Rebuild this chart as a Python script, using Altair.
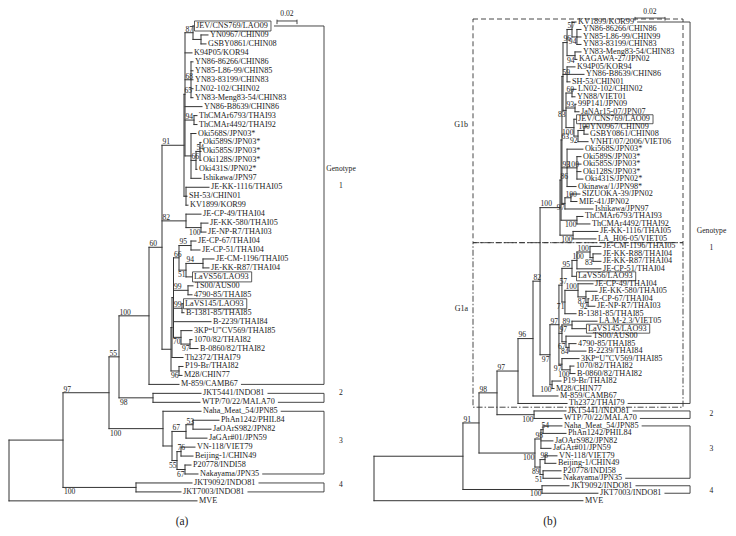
import altair as alt
import pandas as pd

# ---------------------------------------------------------------
# DATA: trees as (bootstrap, depth, [children]) for internal nodes
# and (name, depth) for leaves; depth = distance from root (subst./site)
# ---------------------------------------------------------------

# ---- panel (a) ----
A_G1B = ("91", 0.175, [
    ("65", 0.176, [
        ("87", 0.184, [
            ("JEV/CNS769/LAO09", 0.185),
            ("", 0.192, [("YN0967/CHIN09", 0.199), ("GSBY0861/CHIN08", 0.197)]),
        ]),
        ("K94P05/KOR94", 0.183),
        ("68", 0.182, [("YN86-86266/CHIN86", 0.184), ("YN85-L86-99/CHIN85", 0.184),
                       ("YN83-83199/CHIN83", 0.184), ("LN02-102/CHIN02", 0.184),
                       ("YN83-Meng83-54/CHIN83", 0.184)]),
        ("YN86-B8639/CHIN86", 0.193),
        ("94", 0.185, [("ThCMAr6793/THAI93", 0.188), ("ThCMAr4492/THAI92", 0.188)]),
        ("", 0.182, [
            ("Oki568S/JPN03*", 0.187),
            ("66", 0.187, [
                ("54", 0.191, [("Oki589S/JPN03*", 0.192), ("Oki585S/JPN03*", 0.192),
                               ("Oki128S/JPN03*", 0.192)]),
                ("Oki431S/JPN02*", 0.188),
            ]),
            ("Ishikawa/JPN97", 0.192),
        ]),
    ]),
    ("", 0.177, [("JE-KK-1116/THAI05", 0.200), ("SH-53/CHIN01", 0.178), ("KV1899/KOR99", 0.179)]),
])

A_THAI = ("82", 0.177, [
    ("JE-CP-49/THAI04", 0.192),
    ("100", 0.192, [("JE-KK-580/THAI05", 0.199), ("JE-NP-R7/THAI03", 0.197)]),
])

A_G1A = ("", 0.162, [
    ("", 0.163, [
        ("", 0.1645, [
            ("66", 0.170, [
                ("95", 0.182, [("JE-CP-67/THAI04", 0.187), ("JE-CP-51/THAI04", 0.191)]),
                ("51", 0.177, [
                    ("94", 0.194, [("JE-CM-1196/THAI05", 0.205), ("JE-KK-R87/THAI04", 0.200)]),
                    ("LaVS56/LAO93", 0.183),
                ]),
            ]),
            ("99", 0.179, [("TS00/AUS00", 0.184), ("4790-85/THAI85", 0.183)]),
            ("99", 0.173, [("LaVS145/LAO93", 0.174), ("B-1381-85/THAI85", 0.175)]),
            ("B-2239/THAI84", 0.202),
            ("70", 0.172, [
                ("3KP\u201cU\u201dCV569/THAI85", 0.183),
                ("97", 0.181, [("1070/82/THAI82", 0.183), ("B-0860/82/THAI82", 0.189)]),
            ]),
        ]),
        ("Th2372/THAI79", 0.174),
    ]),
    ("96", 0.170, [("P19-Br/THAI82", 0.174), ("M28/CHIN77", 0.173)]),
])

A_G3 = ("100", 0.154, [
    ("Naha_Meat_54/JPN85", 0.192),
    ("", 0.163, [
        ("67", 0.177, [
            ("53", 0.184, [("PhAn1242/PHIL84", 0.210), ("JaOArS982/JPN82", 0.202)]),
            ("JaGAr#01/JPN59", 0.198),
        ]),
        ("55", 0.168, [
            ("76", 0.172, [("VN-118/VIET79", 0.186), ("Beijing-1/CHIN49", 0.184)]),
            ("67", 0.176, [("P20778/INDI58", 0.182), ("Nakayama/JPN35", 0.189)]),
        ]),
    ]),
])

TREE_A = ("", 0.000, [
    ("", 0.054, [
        ("97", 0.100, [
            ("55", 0.110, [
                ("100", 0.140, [
                    ("60", 0.153, [A_G1B, A_THAI, A_G1A]),
                    ("M-859/CAMB67", 0.170),
                ]),
                ("98", 0.144, [("JKT5441/INDO81", 0.192), ("WTP/70/22/MALA70", 0.191)]),
            ]),
            A_G3,
        ]),
        ("100", 0.127, [("JKT9092/INDO81", 0.183), ("JKT7003/INDO81", 0.172)]),
    ]),
    ("MVE", 0.188),
])

# ---- panel (b) ----
B_G1B = ("100", 0.1240, [
    ("86", 0.1247, [
        ("63", 0.1253, [
            ("59", 0.1260, [
                ("96", 0.1287, [
                    ("57", 0.1320, [
                        ("KV1899/KOR99", 0.1347),
                        ("94", 0.1353, [("YN86-86266/CHIN86", 0.1380), ("YN85-L86-99/CHIN99", 0.1380),
                                        ("YN83-83199/CHIN83", 0.1380)]),
                    ]),
                    ("94", 0.1340, [("YN83-Meng83-54/CHIN83", 0.1380), ("KAGAWA-27/JPN02", 0.1353)]),
                ]),
                ("", 0.1287, [("K94P05/KOR94", 0.1340), ("YN86-B8639/CHIN86", 0.1400),
                              ("SH-53/CHIN01", 0.1307)]),
                ("83", 0.1280, [
                    ("60", 0.1320, [("LN02-102/CHIN02", 0.1347), ("YN88/VIET01", 0.1340)]),
                    ("93", 0.1340, [("99P141/JPN09", 0.1347), ("JaNAr15-07/JPN07", 0.1367)]),
                    ("100", 0.1333, [
                        ("JEV/CNS769/LAO09", 0.1347),
                        ("92", 0.1360, [
                            ("100", 0.1400, [("YN0967/CHIN09", 0.1427), ("GSBY0861/CHIN08", 0.1427)]),
                            ("VNHT/07/2006/VIET06", 0.1427),
                        ]),
                    ]),
                ]),
            ]),
            ("93", 0.1287, [
                ("Oki568S/JPN03*", 0.1393),
                ("100", 0.1353, [("Oki589S/JPN03*", 0.1380), ("Oki585S/JPN03*", 0.1380),
                                 ("Oki128S/JPN03*", 0.1380), ("Oki431S/JPN02*", 0.1393)]),
                ("Okinawa/1/JPN98*", 0.1347),
            ]),
            ("97", 0.1273, [
                ("100", 0.1313, [("SIZUOKA-39/JPN02", 0.1373), ("MIE-41/JPN02", 0.1353)]),
                ("Ishikawa/JPN97", 0.1460),
            ]),
        ]),
        ("100", 0.1353, [("ThCMAr6793/THAI93", 0.1393), ("ThCMAr4492/THAI92", 0.1440)]),
    ]),
    ("100", 0.1327, [("JE-KK-1116/THAI05", 0.1493), ("LA_H06-05/VIET05", 0.1480)]),
])

B_G1A = ("97", 0.1173, [
    ("97", 0.1233, [
        ("57", 0.1253, [
            ("95", 0.1320, [
                ("100", 0.1353, [
                    ("100", 0.1440, [
                        ("JE-CM-1196/THAI05", 0.1513),
                        ("83", 0.1460, [("JE-KK-R88/THAI04", 0.1513), ("JE-KK-R87/THAI04", 0.1513)]),
                    ]),
                    ("JE-CP-51/THAI04", 0.1513),
                ]),
                ("LaVS56/LAO93", 0.1347),
            ]),
            ("71", 0.1273, [
                ("100", 0.1360, [
                    ("JE-CP-49/THAI04", 0.1460),
                    ("87", 0.1413, [
                        ("JE-KK-580/THAI05", 0.1487),
                        ("92", 0.1427, [("JE-CP-67/THAI04", 0.1433), ("JE-NP-R7/THAI03", 0.1473)]),
                    ]),
                ]),
                ("B-1381-85/THAI85", 0.1347),
            ]),
        ]),
        ("97", 0.1253, [
            ("89", 0.1320, [("LA.M-2.3/VIET05", 0.1487), ("LaVS145/LAO93", 0.1413)]),
            ("67", 0.1280, [
                ("TS00/AUS00", 0.1447),
                ("84", 0.1300, [("4790-85/THAI85", 0.1347), ("B-2239/THAI84", 0.1413)]),
            ]),
        ]),
        ("97", 0.1253, [
            ("3KP\u201cU\u201dCV569/THAI85", 0.1367),
            ("100", 0.1307, [("1070/82/THAI82", 0.1333), ("B-0860/82/THAI82", 0.1340)]),
        ]),
    ]),
    ("100", 0.1187, [("P19-Br/THAI82", 0.1247), ("M28/CHIN77", 0.1200)]),
])

B_G3 = ("100", 0.1073, [
    ("98", 0.1113, [
        ("54", 0.1127, [("Naha_Meat_54/JPN85", 0.1253), ("PhAn1242/PHIL84", 0.1280)]),
        ("JaOArS982/JPN82", 0.1193),
        ("JaGAr#01/JPN59", 0.1180),
    ]),
    ("89", 0.1107, [
        ("98", 0.1140, [("VN-118/VIET79", 0.1220), ("Beijing-1/CHIN49", 0.1213)]),
        ("51", 0.1127, [("P20778/INDI58", 0.1247), ("Nakayama/JPN35", 0.1247)]),
    ]),
])

TREE_B = ("", 0.0, [
    ("", 0.0593, [
        ("91", 0.0700, [
            ("98", 0.0820, [
                ("97", 0.0960, [
                    ("96", 0.1060, [
                        ("82", 0.1107, [B_G1B, B_G1A]),
                        ("M-859/CAMB67", 0.1227),
                    ]),
                    ("Th2372/THAI79", 0.1287),
                ]),
                ("100", 0.1067, [("JKT5441/INDO81", 0.1280), ("WTP/70/22/MALA70", 0.1253)]),
            ]),
            B_G3,
        ]),
        ("100", 0.1120, [("JKT9092/INDO81", 0.1300), ("JKT7003/INDO81", 0.1493)]),
    ]),
    ("MVE", 0.1393),
])

BOXED = ["JEV/CNS769/LAO09", "LaVS56/LAO93", "LaVS145/LAO93"]

# genotype groups: (label, first leaf row, last leaf row)
GENO_A = [("1", 0, 40), ("2", 41, 42), ("3", 43, 50), ("4", 51, 52)]
GENO_B = [("1", 0, 51), ("2", 52, 53), ("3", 54, 61), ("4", 62, 63)]
GENO_LABEL_ROWS_A = {"Genotype": 15.96, "1": 17.9, "2": 41.0, "3": 46.3, "4": 51.2}
GENO_LABEL_ROWS_B = {"Genotype": 27.9, "1": 30.2, "2": 52.4, "3": 57.1, "4": 62.7}
SUBGROUPS_B = [("G1b", -0.4, 29.5, 13.8), ("G1a", 29.5, 51.5, 38.4)]
SCALE_BAR = 0.02

# ---------------------------------------------------------------
FONT = "Liberation Serif"
INK = "#333333"
LEAF_FS = 8.2
BOOT_FS = 7.6

EM = {c: 0.5 for c in "0123456789#*_"}
EM.update(dict(zip("ABCDEFGHIJKLMNOPQRSTUVWXYZ",
                   [.722, .667, .667, .722, .611, .556, .722, .722, .333, .389, .722, .611, .889,
                    .722, .722, .556, .722, .667, .556, .611, .722, .722, .944, .722, .722, .611])))
EM.update(dict(zip("abcdefghijklmnopqrstuvwxyz",
                   [.444, .5, .444, .5, .444, .333, .5, .5, .278, .278, .5, .278, .778,
                    .5, .5, .5, .5, .333, .389, .278, .5, .5, .722, .5, .5, .444])))
EM.update({"/": .278, "-": .333, ".": .25, " ": .25, "\u201c": .444, "\u201d": .444})


def text_px(s, size):
    return size * sum(EM.get(c, 0.5) for c in s)


def layout(tree):
    leaves, segs, boots = [], [], []
    state = {"row": 0}

    def walk(node, pdepth, last):
        if len(node) == 2:
            name, d = node
            r = state["row"]
            state["row"] += 1
            leaves.append({"text": name, "x": d, "y": r})
            if pdepth is not None:
                segs.append({"x": pdepth, "x2": d, "y": r, "y2": r})
            return r
        lab, d, kids = node
        rows = [walk(k, d, i == len(kids) - 1) for i, k in enumerate(kids)]
        r = (rows[0] + rows[-1]) / 2
        segs.append({"x": d, "x2": d, "y": rows[0], "y2": rows[-1]})
        if pdepth is not None:
            segs.append({"x": pdepth, "x2": d, "y": r, "y2": r})
            if lab:
                boots.append({"text": lab, "px": pdepth, "nx": d, "y": r, "below": last})
        return r

    walk(tree, None, False)
    return leaves, segs, boots


def panel(tree, ppu, xdom, ydom, W, H, geno, bracket_x, geno_x, geno_rows,
          bar_x, bar_row, caption_x, caption_row, caption, row_half, long_stem_px, subgroups=()):
    leaves, segs, boots = layout(tree)
    X = alt.X("x:Q", scale=alt.Scale(domain=xdom, nice=False, zero=False), axis=None)
    Y = alt.Y("y:Q", scale=alt.Scale(domain=ydom, nice=False, zero=False, reverse=True), axis=None)
    X2 = alt.X2("x2:Q")
    Y2 = alt.Y2("y2:Q")

    ends, boxes = {}, []
    for lf in leaves:
        w = text_px(lf["text"], LEAF_FS)
        boxed = lf["text"] in BOXED
        ends[lf["y"]] = lf["x"] + (2 + w + (3 if boxed else 0) + 3) / ppu
        if boxed:
            boxes.append({"x": lf["x"] + 0.5 / ppu, "x2": lf["x"] + (2 + w + 3) / ppu,
                          "y": lf["y"] - row_half, "y2": lf["y"] + row_half})

    # bootstrap placement: above the stem at its start, or below the stem;
    # short lower stems carry the value right-aligned against the node
    above, below_left, below_right = [], [], []
    for b in boots:
        if not b["below"]:
            above.append({"text": b["text"], "x": b["px"], "y": b["y"]})
        elif (b["nx"] - b["px"]) * ppu > long_stem_px:
            below_left.append({"text": b["text"], "x": b["px"], "y": b["y"]})
        else:
            below_right.append({"text": b["text"], "x": b["nx"], "y": b["y"]})

    brk = []
    for lab, r0, r1 in geno:
        brk.append({"x": ends[r0], "x2": bracket_x, "y": r0, "y2": r0})
        brk.append({"x": ends[r1], "x2": bracket_x, "y": r1, "y2": r1})
        brk.append({"x": bracket_x, "x2": bracket_x, "y": r0, "y2": r1})
    # scale bar
    tick = 0.35
    brk.append({"x": bar_x, "x2": bar_x + SCALE_BAR, "y": bar_row, "y2": bar_row})
    brk.append({"x": bar_x, "x2": bar_x, "y": bar_row - 0.15, "y2": bar_row + tick})
    brk.append({"x": bar_x + SCALE_BAR, "x2": bar_x + SCALE_BAR, "y": bar_row - 0.15, "y2": bar_row + tick})

    annot = [{"text": k, "x": geno_x, "y": v} for k, v in geno_rows.items()]
    annot.append({"text": "0.02", "x": bar_x + SCALE_BAR / 2, "y": bar_row - 0.75})

    txt = dict(font=FONT, color="#222222")
    layers = [
        alt.Chart(pd.DataFrame(segs)).mark_rule(color=INK, strokeWidth=1, strokeCap="square")
        .encode(X, X2, Y, Y2),
        alt.Chart(pd.DataFrame(brk)).mark_rule(color=INK, strokeWidth=0.9)
        .encode(X, X2, Y, Y2),
        alt.Chart(pd.DataFrame(boxes)).mark_rect(filled=False, color=INK, strokeWidth=0.8)
        .encode(X, X2, Y, Y2),
        alt.Chart(pd.DataFrame(leaves)).mark_text(align="left", baseline="middle", dx=2,
                                                  fontSize=LEAF_FS, **txt)
        .encode(X, Y, text="text:N"),
        alt.Chart(pd.DataFrame(above))
        .mark_text(align="left", baseline="alphabetic", dx=0.5, dy=-1.2, fontSize=BOOT_FS, **txt)
        .encode(X, Y, text="text:N"),
        alt.Chart(pd.DataFrame(below_right))
        .mark_text(align="right", baseline="top", dx=-0.5, dy=1, fontSize=BOOT_FS, **txt)
        .encode(X, Y, text="text:N"),
        alt.Chart(pd.DataFrame(annot)).mark_text(align="center", baseline="middle",
                                                 fontSize=7.6, **txt)
        .encode(X, Y, text="text:N"),
        alt.Chart(pd.DataFrame([{"text": caption, "x": caption_x, "y": caption_row}]))
        .mark_text(align="center", baseline="middle", fontSize=11.5, **txt)
        .encode(X, Y, text="text:N"),
    ]
    if below_left:
        layers.append(
            alt.Chart(pd.DataFrame(below_left))
            .mark_text(align="left", baseline="top", dx=1, dy=1, fontSize=BOOT_FS, **txt)
            .encode(X, Y, text="text:N"))
    if subgroups:
        x0, x1 = 0.066, 0.206
        dashes = {"G1b": [5, 3], "G1a": [6, 2, 1.5, 2]}
        for name, r0, r1, rl in subgroups:
            layers.append(
                alt.Chart(pd.DataFrame([{"x": x0, "x2": x1, "y": r0, "y2": r1}]))
                .mark_rect(filled=False, color=INK, strokeWidth=0.9, strokeDash=dashes[name])
                .encode(X, X2, Y, Y2))
            layers.append(
                alt.Chart(pd.DataFrame([{"text": name, "x": x0 - 5 / ppu, "y": rl}]))
                .mark_text(align="right", baseline="middle", fontSize=8, **txt)
                .encode(X, Y, text="text:N"))
    return alt.layer(*layers).properties(width=W, height=H)


pa = panel(TREE_A, 1000, [-0.001, 0.353], [-1.897, 56.139], 354, 520,
           GENO_A, 0.315, 0.332, GENO_LABEL_ROWS_A,
           0.268, -0.56, 0.173, 55.36, "(a)", 0.56, 25)
pb = panel(TREE_B, 1500, [-0.006667, 0.236], [-1.738, 67.781], 364, 520,
           GENO_B, 0.2107, 0.2250, GENO_LABEL_ROWS_B,
           0.174, -0.53, 0.1173, 66.8, "(b)", 0.6, 1000, SUBGROUPS_B)

chart = alt.hconcat(pa, pb, spacing=2).properties(padding=0, background="white") \
    .configure_view(strokeWidth=0)

chart.save("out.html", embed_options={"renderer": "svg", "actions": False})
